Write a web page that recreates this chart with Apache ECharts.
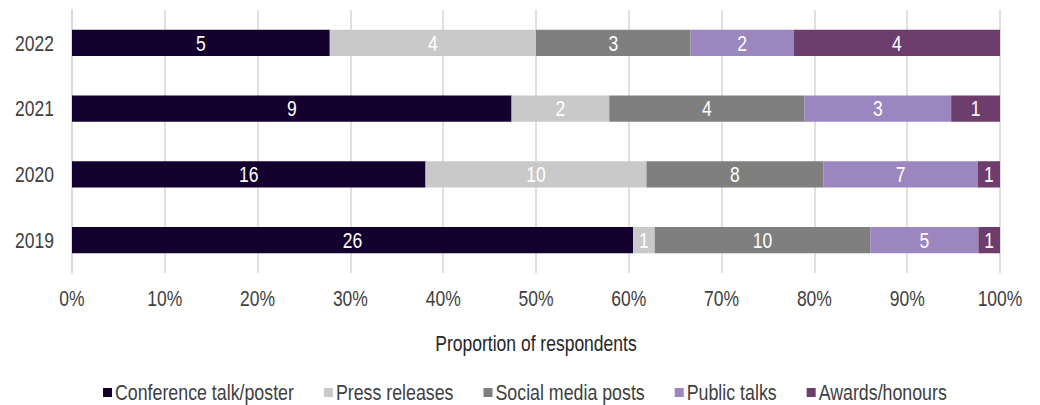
<!DOCTYPE html>
<html>
<head>
<meta charset="utf-8">
<script src="https://cdn.jsdelivr.net/npm/echarts@6/dist/echarts.min.js"></script>
<style>
  html, body { margin: 0; padding: 0; background: #fff; width: 1040px; height: 405px; }
  #frame { width: 1040px; height: 405px; position: relative; }
  /* The chart is laid out in a shorter box and stretched vertically,
     which gives the tall, narrow lettering of the printed figure. */
  #chart {
    position: absolute;
    left: 0;
    top: 0;
    width: 1040px;
    height: 324px;
    transform: scaleY(1.25);
    transform-origin: 0 0;
  }
</style>
</head>
<body>
<div id="frame"><div id="chart"></div></div>
<script>
// Years on the vertical axis (bottom to top)
const years = ['2019', '2020', '2021', '2022'];

// Number of respondents per communication type, per year (same order as years)
const conferenceTalk = [26, 16, 9, 5];
const pressReleases  = [1, 10, 2, 4];
const socialMedia    = [10, 8, 4, 3];
const publicTalks    = [5, 7, 3, 2];
const awards         = [1, 1, 1, 4];

const seriesNames  = ['Conference talk/poster', 'Press releases', 'Social media posts', 'Public talks', 'Awards/honours'];
const seriesCounts = [conferenceTalk, pressReleases, socialMedia, publicTalks, awards];
const seriesColors = ['#14002e', '#c9c9c9', '#7f7f7f', '#9c86c0', '#6d3d6b'];

// Each bar segment is the share of that year's respondents
const totals = years.map((_, i) => seriesCounts.reduce((s, arr) => s + arr[i], 0));

const FONT = '"Liberation Sans", Arial, sans-serif';
const FS = 17.5;

const chart = echarts.init(document.getElementById('chart'), null, { renderer: 'svg' });

chart.setOption({
  animation: false,
  textStyle: { fontFamily: FONT },
  grid: { left: 72, right: 40, top: 8, bottom: 105.6, containLabel: false },
  xAxis: {
    type: 'value',
    min: 0,
    max: 100,
    interval: 10,
    name: 'Proportion of respondents',
    nameLocation: 'middle',
    nameGap: 47,
    nameTextStyle: { fontSize: FS, color: '#262626', fontFamily: FONT },
    axisLine: { show: false },
    axisTick: { show: false },
    axisLabel: {
      formatter: v => v + '%',
      fontSize: FS,
      color: '#404040',
      margin: 11,
      fontFamily: FONT
    },
    splitLine: { show: true, lineStyle: { color: '#d9d9d9', width: 1.6 } }
  },
  yAxis: {
    type: 'category',
    data: years,
    axisLine: { show: true, lineStyle: { color: '#d9d9d9', width: 1.6 } },
    axisTick: { show: false },
    axisLabel: { fontSize: FS, color: '#404040', margin: 18, fontFamily: FONT }
  },
  legend: {
    top: 300,
    left: 98,
    itemWidth: 9,
    itemHeight: 7.2,
    itemGap: 30,
    icon: 'rect',
    textStyle: { fontSize: 17.8, color: '#404040', fontFamily: FONT, padding: [0, 0, 0, -2] },
    data: seriesNames
  },
  series: seriesNames.map((name, k) => ({
    name,
    type: 'bar',
    stack: 'total',
    barWidth: '40%',
    itemStyle: { color: seriesColors[k] },
    label: {
      show: true,
      position: 'inside',
      color: '#ffffff',
      fontSize: FS,
      fontFamily: FONT,
      formatter: p => String(seriesCounts[k][p.dataIndex])
    },
    data: seriesCounts[k].map((c, i) => c / totals[i] * 100)
  }))
});
</script>
</body>
</html>
